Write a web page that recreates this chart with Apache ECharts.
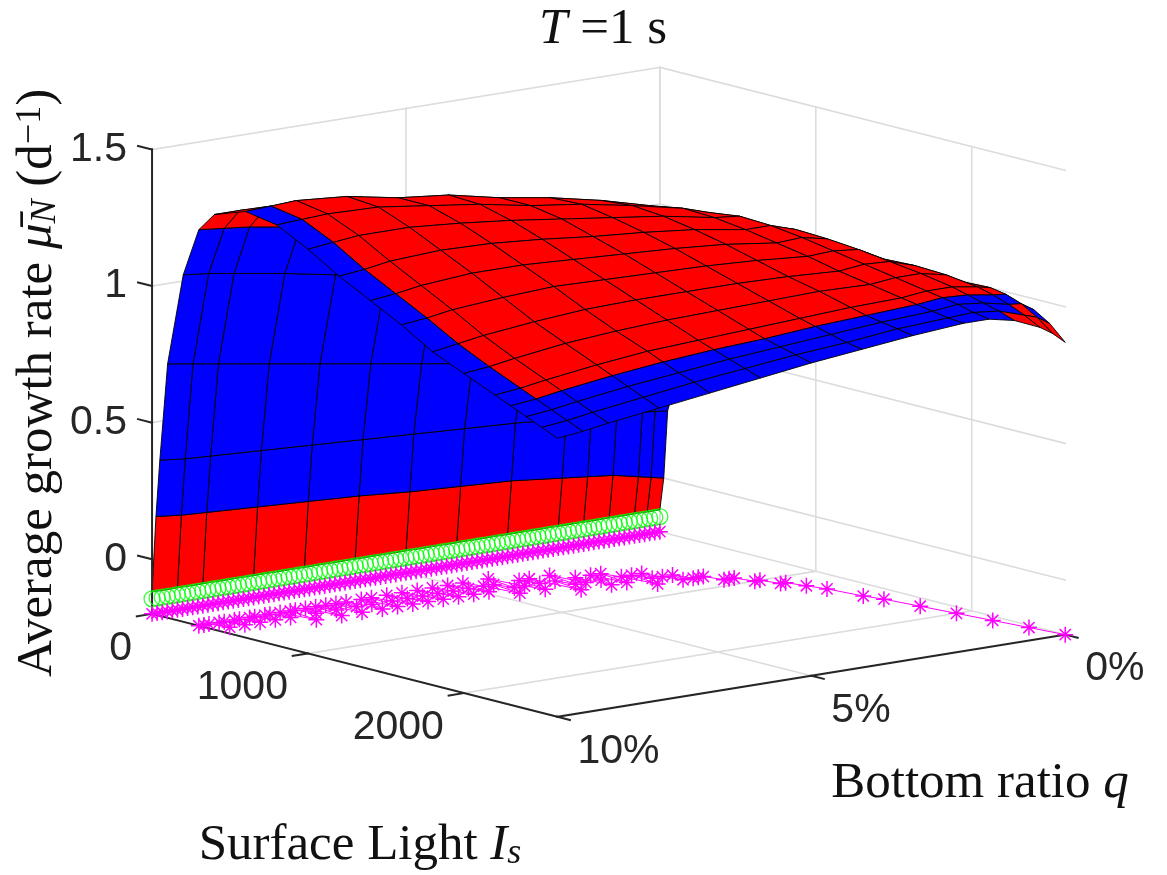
<!DOCTYPE html>
<html>
<head>
<meta charset="utf-8">
<title>T = 1 s</title>
<script src="https://cdn.jsdelivr.net/npm/echarts@6/dist/echarts.min.js"></script>
<style>
html, body { margin: 0; padding: 0; background: #fff; }
#chartmain { width: 1167px; height: 875px; }
</style>
</head>
<body>
<div id="chartmain"></div>
<script>
// axis limits and ticks
var isRange = [0, 2600];
var qRange = [0, 10];
var zRange = [-0.2, 1.5];
var isTicks = [0, 1000, 2000];
var isTickLabels = ['0', '1000', '2000'];
var qTicks = [0, 5, 10];
var qTickLabels = ['0%', '5%', '10%'];
var zTicks = [0, 0.5, 1, 1.5];
var zTickLabels = ['0', '0.5', '1', '1.5'];

// surface grid: rows = surface light, columns = bottom ratio (%)
var surfIs = [0, 25, 50, 100, 200, 300, 400, 600, 800, 1000, 1200, 1400, 1600, 1800, 2000, 2200, 2300, 2400, 2500, 2600];
var surfQ = [0, 0.25, 0.5, 1, 1.5, 2, 3, 4, 5, 6, 7, 8, 9, 9.5, 10];
var surfZ = [
  [-0.12, -0.12, -0.12, -0.12, -0.12, -0.12, -0.12, -0.12, -0.12, -0.12, -0.12, -0.12, -0.12, -0.12, -0.12],
  [0.0, 0.01, 0.02, 0.04, 0.05, 0.06, 0.08, 0.09, 0.10, 0.115, 0.125, 0.135, 0.145, 0.15, 0.16],
  [0.25, 0.255, 0.26, 0.27, 0.275, 0.28, 0.295, 0.305, 0.315, 0.325, 0.335, 0.345, 0.355, 0.36, 0.37],
  [0.36, 0.37, 0.38, 0.40, 0.43, 0.46, 0.51, 0.55, 0.58, 0.61, 0.64, 0.67, 0.70, 0.715, 0.73],
  [0.47, 0.51, 0.56, 0.64, 0.71, 0.76, 0.83, 0.88, 0.915, 0.95, 0.98, 1.015, 1.045, 1.06, 1.07],
  [0.57, 0.62, 0.69, 0.80, 0.88, 0.94, 1.01, 1.06, 1.10, 1.14, 1.17, 1.20, 1.23, 1.24, 1.25],
  [0.64, 0.70, 0.78, 0.91, 1.00, 1.06, 1.125, 1.17, 1.205, 1.24, 1.265, 1.29, 1.31, 1.32, 1.32],
  [0.72, 0.78, 0.86, 1.00, 1.09, 1.14, 1.19, 1.23, 1.26, 1.30, 1.32, 1.355, 1.37, 1.365, 1.36],
  [0.78, 0.84, 0.92, 1.06, 1.13, 1.16, 1.20, 1.235, 1.26, 1.295, 1.32, 1.345, 1.35, 1.345, 1.34],
  [0.83, 0.885, 0.96, 1.095, 1.145, 1.155, 1.19, 1.215, 1.24, 1.265, 1.285, 1.30, 1.30, 1.29, 1.28],
  [0.87, 0.925, 0.995, 1.11, 1.14, 1.14, 1.17, 1.19, 1.205, 1.225, 1.24, 1.245, 1.235, 1.22, 1.21],
  [0.90, 0.955, 1.025, 1.105, 1.125, 1.12, 1.145, 1.16, 1.17, 1.18, 1.19, 1.19, 1.175, 1.16, 1.15],
  [0.925, 0.98, 1.045, 1.095, 1.105, 1.10, 1.115, 1.125, 1.13, 1.135, 1.14, 1.13, 1.115, 1.10, 1.09],
  [0.945, 1.0, 1.05, 1.08, 1.085, 1.075, 1.085, 1.09, 1.09, 1.09, 1.085, 1.07, 1.05, 1.035, 1.02],
  [0.96, 1.015, 1.045, 1.065, 1.065, 1.055, 1.06, 1.055, 1.05, 1.045, 1.035, 1.02, 0.995, 0.98, 0.97],
  [0.97, 1.02, 1.03, 1.045, 1.045, 1.035, 1.03, 1.02, 1.01, 1.0, 0.99, 0.97, 0.945, 0.93, 0.92],
  [0.97, 1.01, 1.015, 1.03, 1.035, 1.025, 1.015, 1.005, 0.99, 0.98, 0.965, 0.945, 0.92, 0.905, 0.895],
  [0.96, 0.99, 0.995, 1.015, 1.025, 1.015, 1.005, 0.99, 0.975, 0.96, 0.94, 0.92, 0.895, 0.88, 0.87],
  [0.925, 0.955, 0.97, 1.0, 1.01, 1.005, 0.995, 0.975, 0.96, 0.94, 0.92, 0.895, 0.87, 0.855, 0.845],
  [0.87, 0.91, 0.94, 0.98, 1.0, 1.0, 0.985, 0.965, 0.945, 0.92, 0.895, 0.87, 0.845, 0.83, 0.82]
];
// which regime each cell belongs to (R = red, B = blue)
var surfColor = [
  'RRRRRRRRRRRRRR',
  'BBBBBBBBBBBBBB',
  'BBBBBBBBBBBBBB',
  'BBBBBBBBBBBBBB',
  'BBBBBBBBBBBBBB',
  'RRRRRRRRRRRRRR',
  'RRRRRRRRRRRRRR',
  'RRRRRRRRRRRRRB',
  'RRRRRRRRRRRRRB',
  'RRRRRRRRRRRRRB',
  'RRRRRRRRRRRRRB',
  'RRRRRRRRRRRRRB',
  'RRRRRRRRRRRRRB',
  'RRRRRRRRRRRRRB',
  'RRRRRRRRRRRRRB',
  'RRRRRRRRRRRRRB',
  'RBBBBBBBBBBBBB',
  'BRBBBBBBBBBBBB',
  'RRRBBBBBBBBBBB'
];

// markers along q
var markerQ = [0, 0.1, 0.2, 0.3, 0.4, 0.5, 0.6, 0.7, 0.8, 0.9, 1, 1.1, 1.2, 1.3, 1.4, 1.5, 1.6, 1.7, 1.8, 1.9,
  2, 2.1, 2.2, 2.3, 2.4, 2.5, 2.6, 2.7, 2.8, 2.9, 3, 3.1, 3.2, 3.3, 3.4, 3.5, 3.6, 3.7, 3.8, 3.9,
  4, 4.1, 4.2, 4.3, 4.4, 4.5, 4.6, 4.7, 4.8, 4.9, 5, 5.1, 5.2, 5.3, 5.4, 5.5, 5.6, 5.7, 5.8, 5.9,
  6, 6.1, 6.2, 6.3, 6.4, 6.5, 6.6, 6.7, 6.8, 6.9, 7, 7.1, 7.2, 7.3, 7.4, 7.5, 7.6, 7.7, 7.8, 7.9,
  8, 8.1, 8.2, 8.3, 8.4, 8.5, 8.6, 8.7, 8.8, 8.9, 9, 9.1, 9.2, 9.3, 9.4, 9.5, 9.6, 9.7, 9.8, 9.9, 10];
var optIs = [2600, 2400, 2200, 2000, 1800, 1600, 1500, 1300, 1200, 1100,
  1100, 1000, 1000, 900, 900, 900, 800, 800, 800, 700,
  800, 700, 600, 700, 600, 800, 600, 500, 700, 500,
  600, 700, 500, 600, 400, 600, 500, 700, 400, 500,
  400, 600, 500, 300, 500, 400, 600, 400, 300, 500,
  400, 300, 500, 400, 300, 500, 400, 300, 500, 400,
  300, 500, 400, 300, 500, 400, 300, 500, 300, 400,
  500, 300, 400, 300, 500, 300, 400, 300, 500, 300,
  400, 300, 300, 500, 300, 400, 300, 300, 400, 300,
  300, 400, 300, 300, 400, 300, 300, 400, 300, 300,
  300];
var lowGrowth = -0.145;

// view (azimuth / elevation) and box aspect
var AZ = 51.4 * Math.PI / 180;
var EL = 11.7 * Math.PI / 180;
var BOX = [1, 1, 0.73];

function project(is, q, z) {
  var u = (is - isRange[0]) / (isRange[1] - isRange[0]) * BOX[0];
  var v = (qRange[1] - q) / (qRange[1] - qRange[0]) * BOX[1];
  var w = (z - zRange[0]) / (zRange[1] - zRange[0]) * BOX[2];
  return [
    Math.cos(AZ) * u + Math.sin(AZ) * v,
    -Math.sin(AZ) * Math.sin(EL) * u + Math.cos(AZ) * Math.sin(EL) * v + Math.cos(EL) * w,
    Math.sin(AZ) * Math.cos(EL) * u - Math.cos(AZ) * Math.cos(EL) * v + Math.sin(EL) * w
  ];
}
function seg(a, b) {
  var p = project(a[0], a[1], a[2]), r = project(b[0], b[1], b[2]);
  return [p[0], p[1], r[0], r[1]];
}

var zMin = zRange[0], zMax = zRange[1];
var isMin = isRange[0], isMax = isRange[1];
var qMin = qRange[0], qMax = qRange[1];

// grey grid on the floor and the two back walls
var gridSegs = [];
isTicks.forEach(function (t) {
  gridSegs.push(seg([t, qMax, zMin], [t, qMin, zMin]));
  gridSegs.push(seg([t, qMin, zMin], [t, qMin, zMax]));
});
qTicks.forEach(function (t) {
  gridSegs.push(seg([isMin, t, zMin], [isMax, t, zMin]));
  gridSegs.push(seg([isMin, t, zMin], [isMin, t, zMax]));
});
zTicks.forEach(function (t) {
  gridSegs.push(seg([isMin, qMax, t], [isMin, qMin, t]));
  gridSegs.push(seg([isMin, qMin, t], [isMax, qMin, t]));
});

// axis lines and tick marks
var axisSegs = [
  seg([isMin, qMax, zMin], [isMin, qMax, zMax]),
  seg([isMin, qMax, zMin], [isMax, qMax, zMin]),
  seg([isMax, qMax, zMin], [isMax, qMin, zMin])
];
zTicks.forEach(function (t) { axisSegs.push(seg([isMin, qMax, t], [isMin - 90, qMax, t])); });
isTicks.forEach(function (t) { axisSegs.push(seg([t, qMax, zMin], [t, qMax + 0.3, zMin])); });
qTicks.forEach(function (t) { axisSegs.push(seg([isMax, t, zMin], [isMax + 80, t, zMin])); });

// surface cells, far to near
var cells = [];
for (var i = 0; i < surfIs.length - 1; i++) {
  for (var j = 0; j < surfQ.length - 1; j++) {
    var c = [[i, j], [i + 1, j], [i + 1, j + 1], [i, j + 1]].map(function (k) {
      return project(surfIs[k[0]], surfQ[k[1]], surfZ[k[0]][k[1]]);
    });
    var cx = 0, cy = 0, d = 0;
    c.forEach(function (p) { cx += p[0] / 4; cy += p[1] / 4; d += p[2] / 4; });
    cells.push([cx, cy, i, j, d]);
  }
}
cells.sort(function (a, b) { return a[4] - b[4]; });

function renderSeg(color, width) {
  return function (params, api) {
    var a = api.coord([api.value(0), api.value(1)]);
    var b = api.coord([api.value(2), api.value(3)]);
    return {
      type: 'line',
      shape: { x1: a[0], y1: a[1], x2: b[0], y2: b[1] },
      style: { stroke: color, lineWidth: width, lineCap: 'square' }
    };
  };
}

function renderCell(params, api) {
  var i = api.value(2), j = api.value(3);
  var pts = [[i, j], [i + 1, j], [i + 1, j + 1], [i, j + 1]].map(function (k) {
    var p = project(surfIs[k[0]], surfQ[k[1]], surfZ[k[0]][k[1]]);
    return api.coord([p[0], p[1]]);
  });
  return {
    type: 'polygon',
    shape: { points: pts },
    style: { fill: surfColor[i].charAt(j) === 'R' ? '#ff0000' : '#0000ff', stroke: '#000', lineWidth: 0.9, lineJoin: 'round' }
  };
}

var tickFont = { fontSize: 41, fontFamily: 'Liberation Sans, Arial, sans-serif', fill: '#262626' };
function renderLabel(labels, dx, dy, align, vAlign) {
  return function (params, api) {
    var p = api.coord([api.value(0), api.value(1)]);
    return {
      type: 'text',
      x: p[0] + dx,
      y: p[1] + dy,
      style: {
        text: labels[params.dataIndex], fontSize: tickFont.fontSize, fontFamily: tickFont.fontFamily,
        fill: tickFont.fill, align: align, verticalAlign: vAlign
      }
    };
  };
}

var star = 'path://M0,-10L0,10M-10,0L10,0M-7,-7L7,7M-7,7L7,-7';
var serif = 'Liberation Serif, Times New Roman, serif';

var option = {
  animation: false,
  grid: { left: 0, right: 0, top: 0, bottom: 0 },
  xAxis: { type: 'value', min: -0.234, max: 1.562, show: false },
  yAxis: { type: 'value', min: -0.402, max: 0.945, show: false },
  graphic: [
    {
      type: 'text', x: 603, y: 30, z: 10,
      style: {
        text: '{it|T} =1 s', align: 'center', verticalAlign: 'middle', fill: '#111',
        fontSize: 51, fontFamily: serif,
        rich: { it: { fontStyle: 'italic', fontSize: 51, fontFamily: serif, fill: '#111' } }
      }
    },
    {
      type: 'text', x: 360, y: 846, z: 10,
      style: {
        text: 'Surface Light {it|I}{sub|s}', align: 'center', verticalAlign: 'middle', fill: '#111',
        fontSize: 51, fontFamily: serif,
        rich: {
          it: { fontStyle: 'italic', fontSize: 51, fontFamily: serif, fill: '#111' },
          sub: { fontStyle: 'italic', fontSize: 36, fontFamily: serif, fill: '#111', verticalAlign: 'bottom', lineHeight: 30 }
        }
      }
    },
    {
      type: 'text', x: 980, y: 784, z: 10,
      style: {
        text: 'Bottom ratio {it|q}', align: 'center', verticalAlign: 'middle', fill: '#111',
        fontSize: 51, fontFamily: serif,
        rich: { it: { fontStyle: 'italic', fontSize: 51, fontFamily: serif, fill: '#111' } }
      }
    },
    {
      type: 'text', x: 38, y: 383, z: 10, rotation: Math.PI / 2,
      style: {
        text: 'Average growth rate {it|\u03bc\u0304}{sub|N} (d{sup|\u22121})', align: 'center', verticalAlign: 'middle',
        fill: '#111', fontSize: 51, fontFamily: serif,
        rich: {
          it: { fontStyle: 'italic', fontSize: 51, fontFamily: serif, fill: '#111' },
          sub: { fontStyle: 'italic', fontSize: 36, fontFamily: serif, fill: '#111', verticalAlign: 'bottom', lineHeight: 30 },
          sup: { fontSize: 36, fontFamily: serif, fill: '#111', verticalAlign: 'top', lineHeight: 30 }
        }
      }
    }
  ],
  series: [
    {
      name: 'grid', type: 'custom', z: 1, silent: true,
      encode: { x: [0, 2], y: [1, 3] },
      renderItem: renderSeg('#dcdcdc', 1.6),
      data: gridSegs
    },
    {
      name: 'surface', type: 'custom', z: 2, silent: true,
      encode: { x: 0, y: 1 },
      renderItem: renderCell,
      data: cells
    },
    {
      name: 'axes', type: 'custom', z: 3, silent: true,
      encode: { x: [0, 2], y: [1, 3] },
      renderItem: renderSeg('#262626', 2),
      data: axisSegs
    },
    {
      name: 'zero growth', type: 'scatter', z: 4, silent: true,
      symbol: 'circle', symbolSize: 16,
      itemStyle: { color: 'rgba(0,0,0,0)', borderColor: '#00ff00', borderWidth: 1.3 },
      data: markerQ.map(function (q) { var p = project(isMin, q, lowGrowth); return [p[0], p[1]]; })
    },
    {
      name: 'floor low', type: 'line', z: 4, silent: true,
      symbol: star, symbolSize: 16, showSymbol: true,
      lineStyle: { color: '#ff00ff', width: 1 },
      itemStyle: { color: '#ff00ff', borderColor: '#ff00ff', borderWidth: 1.5 },
      data: markerQ.map(function (q) { var p = project(isMin, q, zMin); return [p[0], p[1]]; })
    },
    {
      name: 'optimal light', type: 'line', z: 4, silent: true,
      symbol: star, symbolSize: 16, showSymbol: true,
      lineStyle: { color: '#ff00ff', width: 1 },
      itemStyle: { color: '#ff00ff', borderColor: '#ff00ff', borderWidth: 1.5 },
      data: markerQ.map(function (q, k) { var p = project(optIs[k], q, zMin); return [p[0], p[1]]; })
    },
    {
      name: 'z labels', type: 'custom', z: 5, silent: true,
      encode: { x: 0, y: 1 },
      renderItem: renderLabel(zTickLabels, -25, 0, 'right', 'middle'),
      data: zTicks.map(function (t) { var p = project(isMin, qMax, t); return [p[0], p[1]]; })
    },
    {
      name: 'Is labels', type: 'custom', z: 5, silent: true,
      encode: { x: 0, y: 1 },
      renderItem: renderLabel(isTickLabels, -20, 14, 'right', 'top'),
      data: isTicks.map(function (t) { var p = project(t, qMax, zMin); return [p[0], p[1]]; })
    },
    {
      name: 'q labels', type: 'custom', z: 5, silent: true,
      encode: { x: 0, y: 1 },
      renderItem: renderLabel(qTickLabels, 20, 14, 'left', 'top'),
      data: qTicks.map(function (t) { var p = project(isMax, t, zMin); return [p[0], p[1]]; })
    }
  ]
};

var myChart = echarts.init(document.getElementById('chartmain'));
myChart.setOption(option);
</script>
</body>
</html>
